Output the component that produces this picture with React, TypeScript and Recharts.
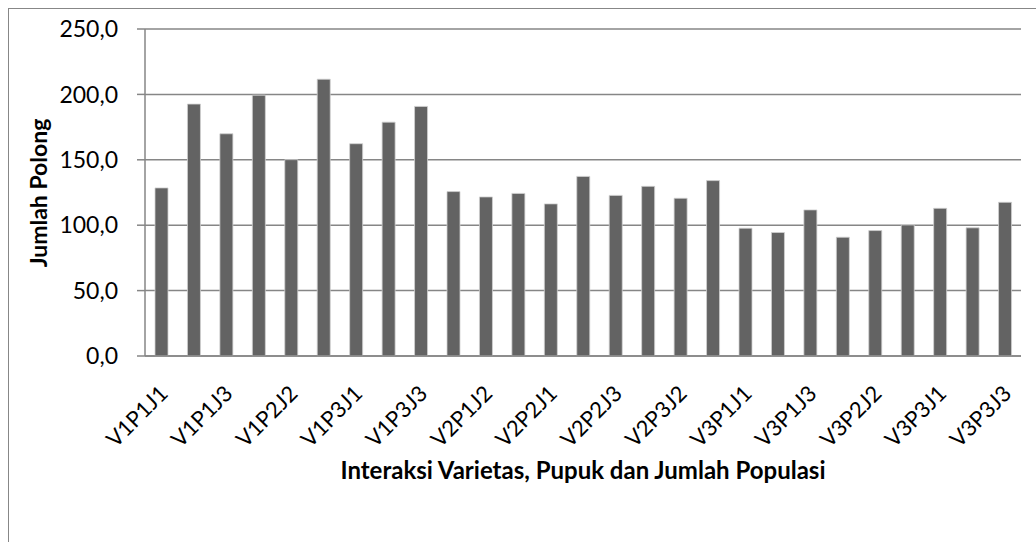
import { Bar, BarChart, CartesianGrid, XAxis, YAxis } from "recharts";

const categories = [
  "V1P1J1", "V1P1J2", "V1P1J3", "V1P2J1", "V1P2J2", "V1P2J3", "V1P3J1", "V1P3J2", "V1P3J3",
  "V2P1J1", "V2P1J2", "V2P1J3", "V2P2J1", "V2P2J2", "V2P2J3", "V2P3J1", "V2P3J2", "V2P3J3",
  "V3P1J1", "V3P1J2", "V3P1J3", "V3P2J1", "V3P2J2", "V3P2J3", "V3P3J1", "V3P3J2", "V3P3J3",
];

const jumlahPolong = [
  128.5, 192.6, 169.9, 199.4, 150.1, 211.6, 162.3, 178.8, 190.8,
  125.7, 121.6, 124.3, 116.3, 137.3, 122.8, 129.7, 120.6, 134.1,
  97.7, 94.4, 111.7, 90.8, 95.9, 100.2, 112.9, 98.0, 117.5,
];

const yTicks = [0, 50, 100, 150, 200, 250];

const data = categories.map((name, i) => ({ name, value: jumlahPolong[i] }));

const FONT = "Lato, 'Open Sans', sans-serif";
const GRID = "#868686";

function formatComma(value: number) {
  return value.toFixed(1).replace(".", ",");
}

function CategoryTick(props: any) {
  const { x, y, payload } = props;
  return (
    <g transform={`translate(${x},${y})`}>
      <text
        x={0}
        y={0}
        textAnchor="end"
        fontFamily={FONT}
        fontSize={22}
        fill="#000"
        transform="translate(8,31) rotate(-45)"
      >
        {payload.value}
      </text>
    </g>
  );
}

export default function App() {
  return (
    <div
      style={{
        position: "fixed",
        left: 0,
        top: 0,
        width: 1036,
        height: 542,
        overflow: "hidden",
        background: "#fff",
      }}
    >
      <div
        style={{
          position: "absolute",
          left: 8,
          top: 8,
          width: 1100,
          height: 600,
          border: "1.5px solid #878787",
          boxSizing: "border-box",
        }}
      />
      <div style={{ position: "absolute", left: 0, top: 0 }}>
        <BarChart
          width={1036}
          height={542}
          data={data}
          margin={{ top: 29, right: 15, left: 0, bottom: 86 }}
          barSize={13}
        >
          <CartesianGrid vertical={false} stroke={GRID} strokeWidth={1.5} />
          <XAxis
            dataKey="name"
            interval={1}
            height={100}
            tickLine={false}
            axisLine={{ stroke: GRID, strokeWidth: 1.5 }}
            tick={<CategoryTick />}
          />
          <YAxis
            width={145}
            domain={[0, 250]}
            ticks={yTicks}
            tickFormatter={formatComma}
            tickSize={8}
            tickMargin={19}
            tickLine={{ stroke: GRID, strokeWidth: 1.5 }}
            axisLine={{ stroke: GRID, strokeWidth: 1.5 }}
            tick={{ fontFamily: FONT, fontSize: 23, fill: "#000" }}
          />
          <Bar
            dataKey="value"
            fill="#636363"
            stroke="#d0d0d0"
            strokeWidth={0.8}
            isAnimationActive={false}
          />
        </BarChart>
      </div>
      <div
        style={{
          position: "absolute",
          left: 0,
          top: 456,
          width: 1166,
          textAlign: "center",
          fontFamily: FONT,
          fontWeight: 700,
          fontSize: 24,
          color: "#000",
          lineHeight: "28px",
        }}
      >
        Interaksi Varietas, Pupuk dan Jumlah Populasi
      </div>
      <div
        style={{
          position: "absolute",
          left: 38,
          top: 193,
          transform: "translate(-50%, -50%) rotate(-90deg)",
          whiteSpace: "nowrap",
          fontFamily: FONT,
          fontWeight: 700,
          fontSize: 23,
          color: "#000",
          lineHeight: "28px",
        }}
      >
        Jumlah Polong
      </div>
    </div>
  );
}
